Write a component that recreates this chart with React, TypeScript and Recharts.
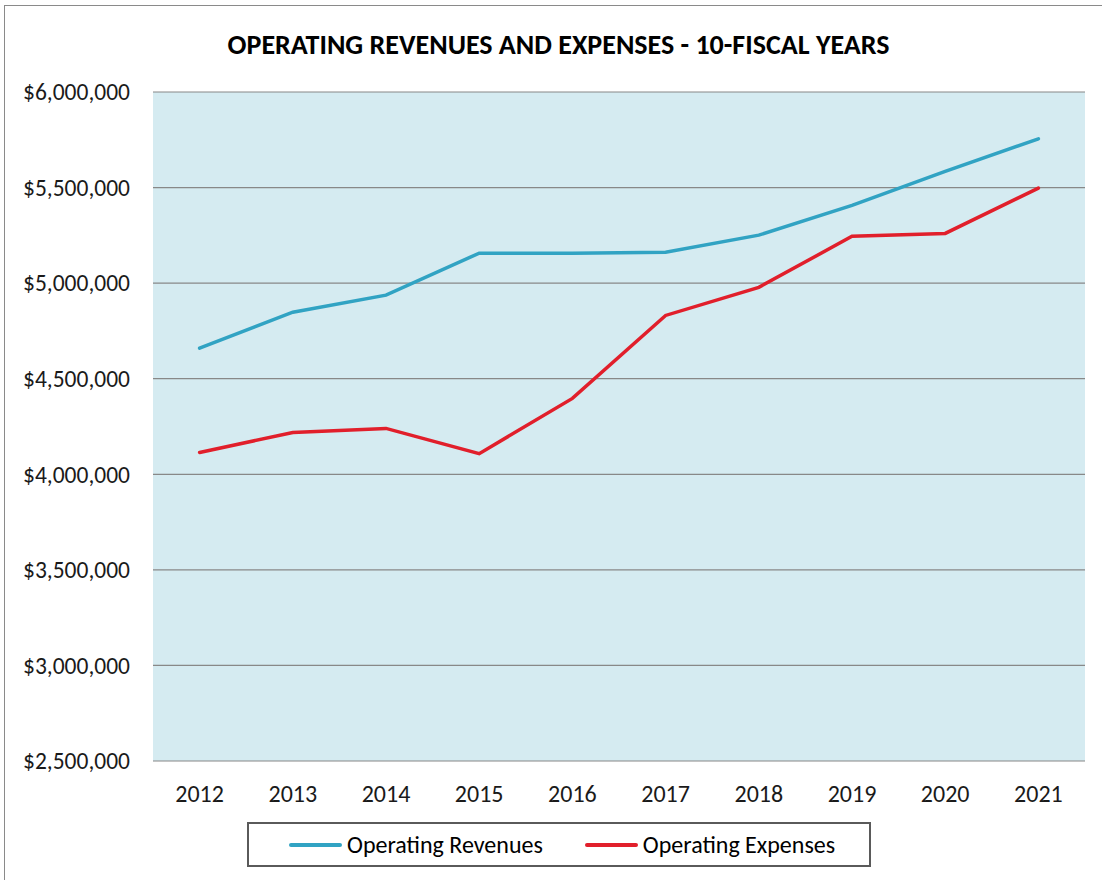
import React from 'react';
import { LineChart, Line, XAxis, YAxis, CartesianGrid, Legend } from 'recharts';

const years = ['2012', '2013', '2014', '2015', '2016', '2017', '2018', '2019', '2020', '2021'];
const revenues = [4660000, 4848000, 4937000, 5157000, 5157000, 5162000, 5251000, 5407000, 5585000, 5755000];
const expenses = [4114000, 4219000, 4240000, 4108000, 4397000, 4831000, 4978000, 5245000, 5260000, 5497000];
const yTicks = [2500000, 3000000, 3500000, 4000000, 4500000, 5000000, 5500000, 6000000];
const title = 'OPERATING REVENUES AND EXPENSES - 10-FISCAL YEARS';
const seriesNames = ['Operating Revenues', 'Operating Expenses'];
const colors = ['#31A3C3', '#E11F2B'];

const data = years.map((y, i) => ({ year: y, rev: revenues[i], exp: expenses[i] }));

const FONT = 'Carlito, Calibri, Lato, sans-serif';

const fmt = (v: number) => '$' + v.toLocaleString('en-US');

const LegendBox = () => (
  <div
    style={{
      width: 620,
      height: 41,
      border: '2px solid #5a5a5a',
      boxSizing: 'content-box',
      display: 'flex',
      alignItems: 'center',
      fontFamily: FONT,
      fontSize: 24,
      color: '#000',
      whiteSpace: 'nowrap',
    }}
  >
    {seriesNames.map((n, i) => (
      <div key={n} style={{ display: 'flex', alignItems: 'center', marginLeft: i === 0 ? 40 : 42 }}>
        <div style={{ width: 53, height: 4, borderRadius: 2, background: colors[i], marginRight: 5 }} />
        <span>{n}</span>
      </div>
    ))}
  </div>
);

export default function App() {
  return (
    <div style={{ position: 'absolute', left: 0, top: 0, width: 1102, height: 880, background: '#fff', overflow: 'hidden' }}>
      <div
        style={{
          position: 'absolute',
          left: 4,
          top: 5,
          width: 1110,
          height: 890,
          border: '1.5px solid #8a8a8a',
        }}
      />
      <div
        style={{
          position: 'absolute',
          left: 0,
          top: 27,
          width: 1117,
          textAlign: 'center',
          fontFamily: FONT,
          fontWeight: 'bold',
          fontSize: 28,
          lineHeight: '36px',
          color: '#000',
          whiteSpace: 'nowrap',
        }}
      >
        {title}
      </div>
      <div style={{ position: 'absolute', left: 0, top: 0 }}>
        <LineChart width={1102} height={880} data={data} margin={{ top: 92, right: 17, bottom: 89, left: 0 }}>
          <CartesianGrid
            vertical={false}
            horizontal={true}
            stroke="#888888"
            strokeWidth={1.2}
            fill="#D5EBF1"
          />
          <XAxis
            dataKey="year"
            axisLine={false}
            tickLine={false}
            tickSize={0}
            tickMargin={24}
            height={30}
            padding={{ left: 46.6, right: 46.6 }}
            tick={{ fontFamily: FONT, fontSize: 24, fill: '#1a1a1a' }}
            interval={0}
          />
          <YAxis
            domain={[2500000, 6000000]}
            ticks={yTicks}
            tickFormatter={fmt}
            axisLine={false}
            tickLine={false}
            tickSize={0}
            tickMargin={23}
            width={153}
            tick={{ fontFamily: FONT, fontSize: 23.5, fill: '#1a1a1a' }}
            interval={0}
          />
          <Line
            type="linear"
            dataKey="rev"
            name={seriesNames[0]}
            stroke={colors[0]}
            strokeWidth={3.5}
            strokeLinecap="round"
            dot={false}
            isAnimationActive={false}
          />
          <Line
            type="linear"
            dataKey="exp"
            name={seriesNames[1]}
            stroke={colors[1]}
            strokeWidth={3.5}
            strokeLinecap="round"
            dot={false}
            isAnimationActive={false}
          />
          <Legend
            layout="horizontal"
            verticalAlign="middle"
            align="center"
            content={() => <LegendBox />}
            wrapperStyle={{ position: 'absolute', left: 247, top: 822, width: 624, height: 45 }}
          />
        </LineChart>
      </div>
    </div>
  );
}
